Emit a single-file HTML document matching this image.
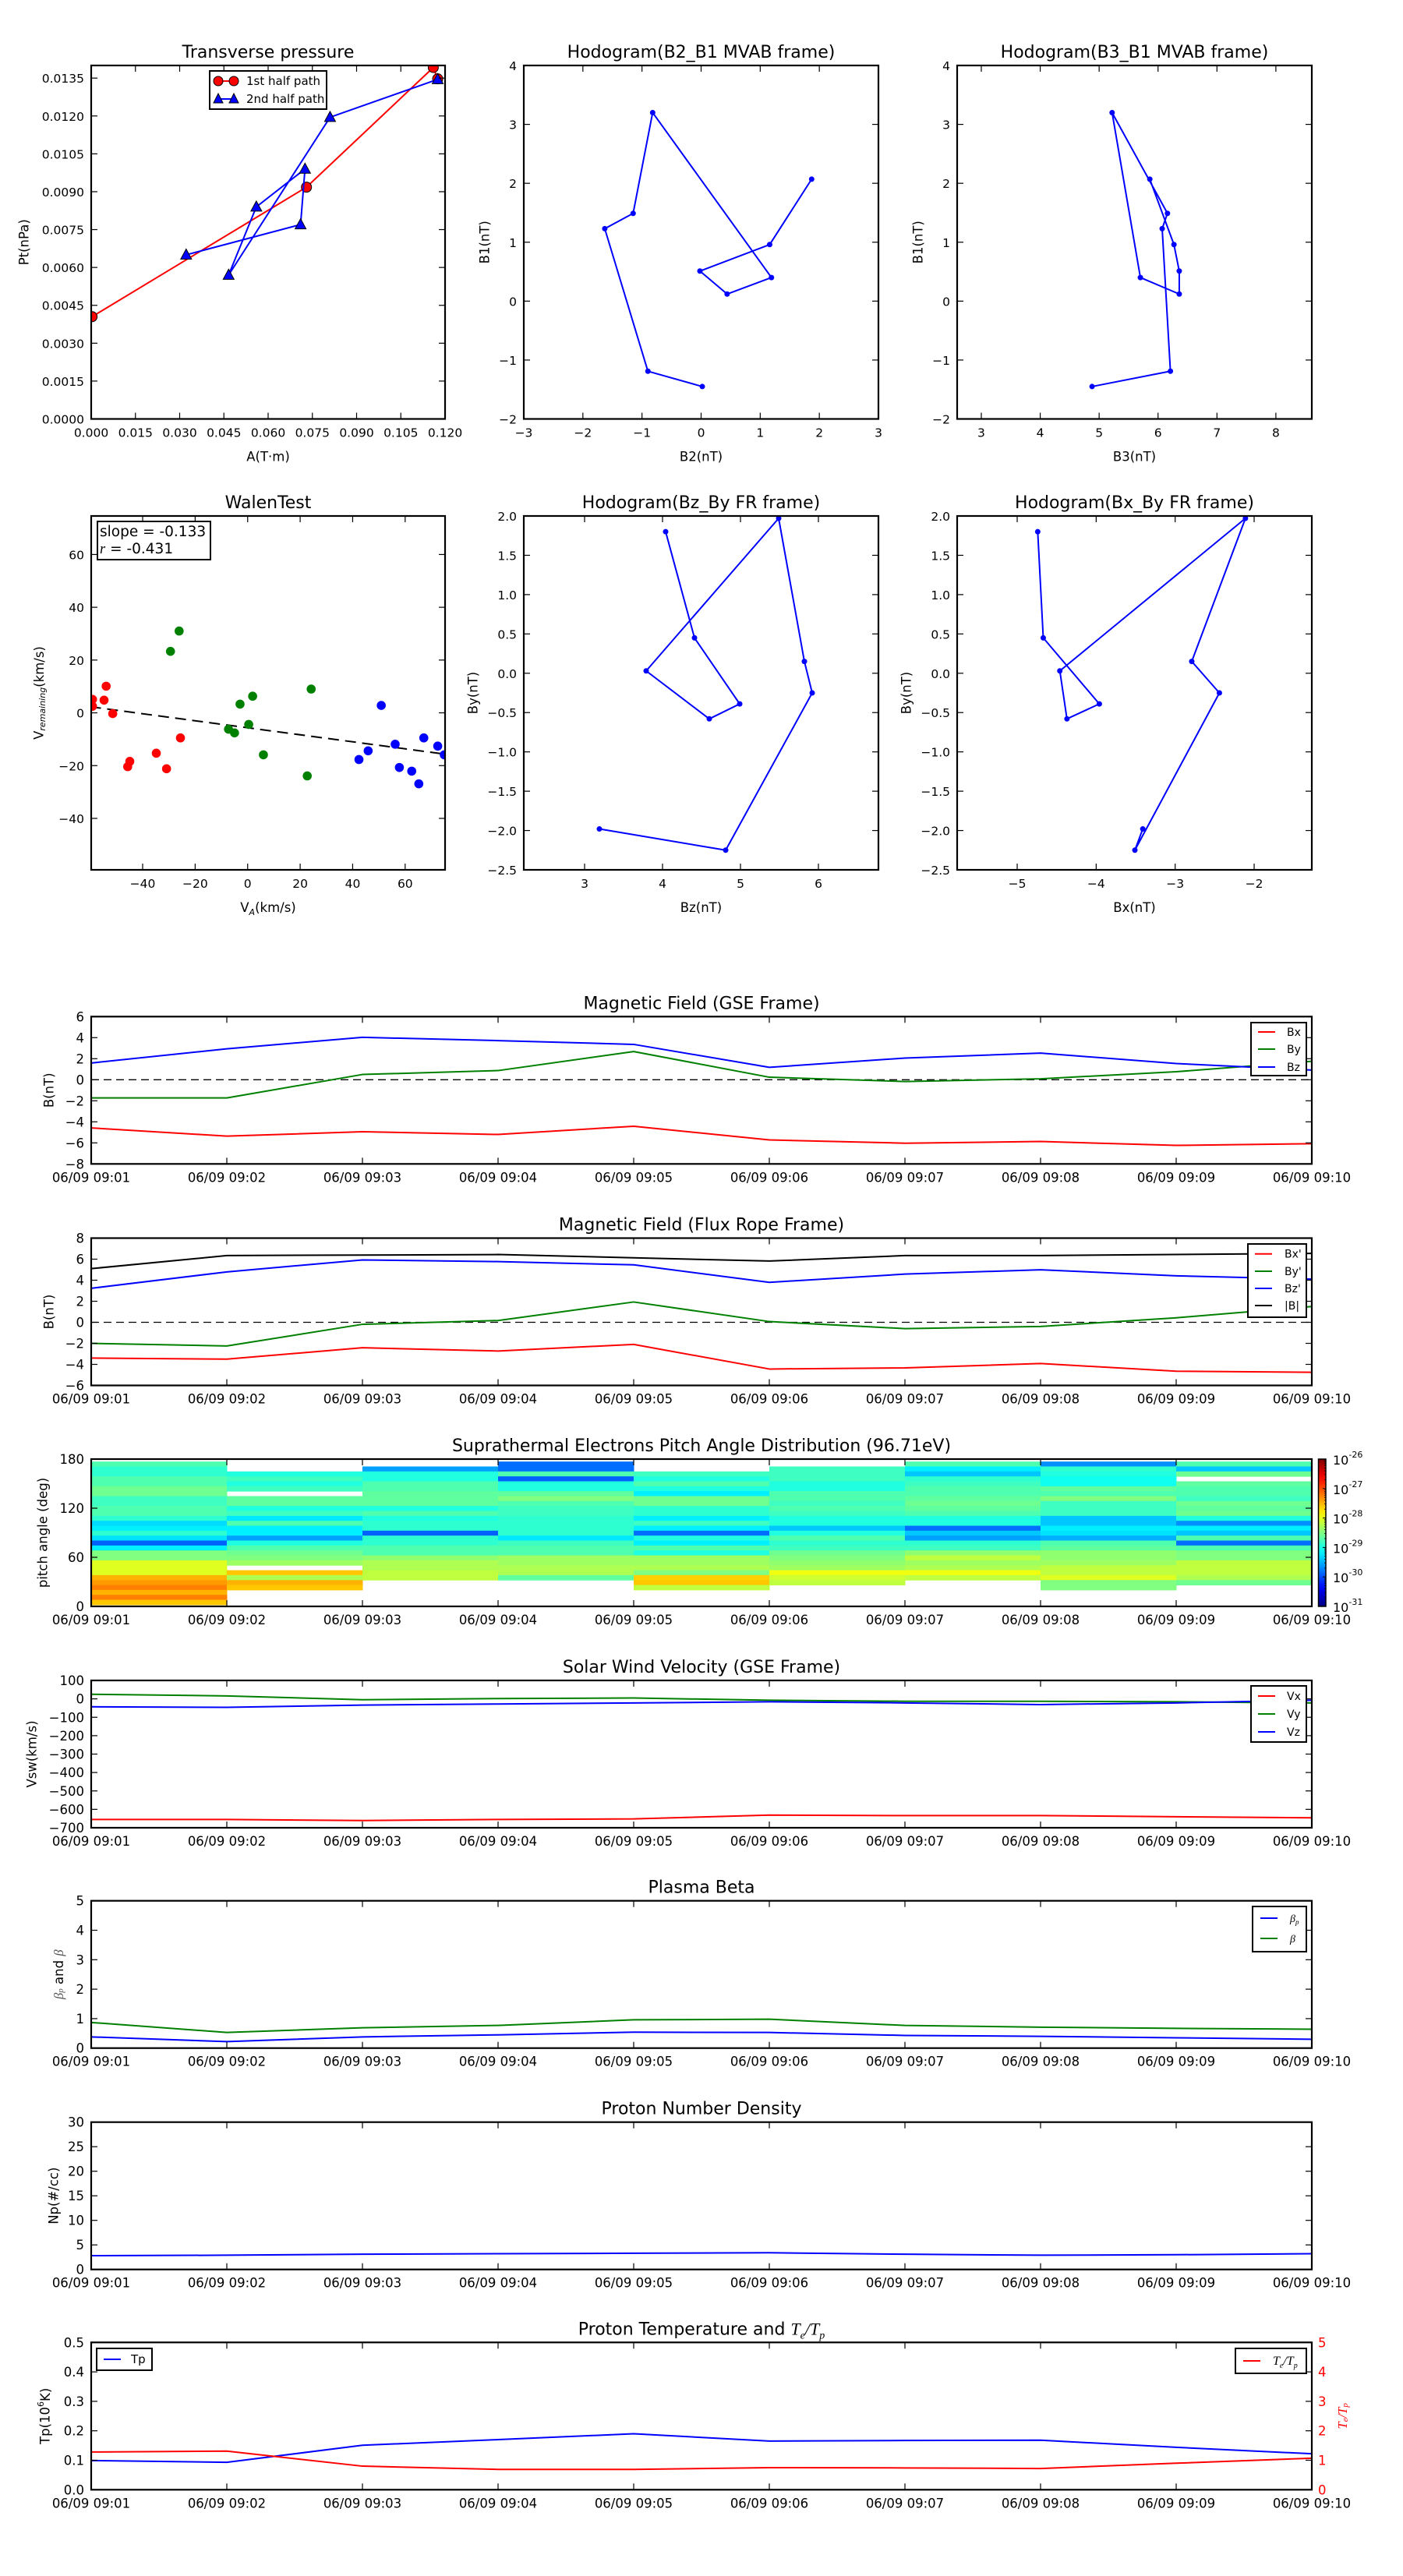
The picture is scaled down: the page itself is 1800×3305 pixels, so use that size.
<!DOCTYPE html>
<html><head><meta charset="utf-8"><style>
html,body{margin:0;padding:0;background:#fff;}
svg text{font-family:"DejaVu Sans","Liberation Sans",sans-serif;}
</style></head><body>
<svg id="fig" xmlns="http://www.w3.org/2000/svg" width="1800" height="3300" viewBox="0 0 1800 3300"><rect width="1800" height="3300" fill="#fff"/><defs id="defs"></defs></svg>
<script>
// ---------- data ----------
const tpRedA=[0.0003,0.073,0.116,0.1175];
const tpRedP=[0.00405,0.00918,0.01392,0.01347];
const tpBlueA=[0.1175,0.081,0.0466,0.056,0.0725,0.071,0.0322];
const tpBlueP=[0.01345,0.01195,0.0057,0.0084,0.0099,0.0077,0.0065];
const hB1=[-1.45,-1.19,1.23,1.49,3.2,0.40,0.12,0.51,0.96,2.07];
const hB2=[0.02,-0.9,-1.63,-1.15,-0.82,1.19,0.44,-0.02,1.16,1.87];
const hB3=[4.88,6.21,6.07,6.16,5.22,5.70,6.36,6.36,6.27,5.86];
const fBy=[1.80,0.45,-0.39,-0.58,0.03,1.97,0.15,-0.25,-2.25,-1.98];
const fBz=[4.04,4.41,4.99,4.60,3.79,5.49,5.82,5.92,4.81,3.19];
const fBx=[-4.74,-4.67,-3.96,-4.37,-4.46,-2.11,-2.79,-2.44,-3.51,-3.41];
const walenRedX=[-59.1,-59.1,-53.9,-54.7,-51.4,-45.7,-44.9,-34.8,-30.9,-25.6];
const walenRedY=[5.1,2.5,10.1,4.8,-0.3,-20.4,-18.4,-15.3,-21.2,-9.5];
const walenGreenX=[-29.4,-26.1,-7.3,-5,-2.9,0.4,1.9,6,22.7,24.2];
const walenGreenY=[23.3,31.0,-6.2,-7.6,3.3,-4.4,6.3,-15.9,-23.9,9.0];
const walenBlueX=[42.4,45.9,50.9,56.2,57.8,62.5,65.2,67.1,72.4,74.9];
const walenBlueY=[-17.7,-14.4,2.8,-11.9,-20.7,-22.1,-26.9,-9.5,-12.6,-15.9];
const walenSlope=-0.133, walenIntercept=-5.66;
const minutes=[1,2,3,4,5,6,7,8,9,10];
const timeLabels=['06/09 09:01','06/09 09:02','06/09 09:03','06/09 09:04','06/09 09:05','06/09 09:06','06/09 09:07','06/09 09:08','06/09 09:09','06/09 09:10'];
const gseBx=[-4.58,-5.36,-4.94,-5.2,-4.42,-5.72,-6.03,-5.87,-6.24,-6.08];
const gseBy=[-1.73,-1.73,0.5,0.87,2.68,0.24,-0.17,0.09,0.76,1.75];
const gseBz=[1.59,2.94,4.03,3.72,3.36,1.18,2.06,2.53,1.54,0.92];
const frBx=[-3.4,-3.5,-2.42,-2.73,-2.1,-4.44,-4.33,-3.92,-4.65,-4.75];
const frBy=[-2.0,-2.25,-0.19,0.17,1.93,0.07,-0.6,-0.4,0.43,1.5];
const frBz=[3.23,4.79,5.93,5.77,5.46,3.8,4.58,4.99,4.42,4.1];
const frBt=[5.1,6.34,6.39,6.44,6.13,5.82,6.34,6.34,6.44,6.55];
const padCol1=[-28.74,-28.9,-28.9,-28.74,-28.74,-28.58,-28.58,-28.82,-28.82,-28.74,-28.74,-28.9,-29.3,-29.2,-28.9,-29.26,-29.9,-29.2,-28.5,-28.5,-28.03,-28.03,-28.03,-27.5,-27.38,-27.25,-27.5,-27.25,-27.6];
const padCol2=[null,null,-28.97,-28.82,-28.97,-28.82,null,-28.66,-28.66,-28.97,-28.82,-29.24,-28.74,-29.2,-29.2,-29.59,-28.97,-28.74,-28.58,-28.5,-28.35,null,-27.6,-28.27,-27.5,-27.6,null,null,null];
const padCol3=[null,-29.59,-28.97,-28.97,-28.74,-28.74,-28.66,-28.66,-28.66,-28.97,-28.74,-28.97,-28.9,-28.9,-29.9,-28.9,-28.9,-28.74,-28.74,-28.42,-28.27,-28.27,-28.19,-28.19,null,null,null,null,null];
const padCol4=[-29.83,-29.83,-28.74,-29.9,-28.97,-28.97,-28.66,-28.5,-28.74,-28.82,-28.82,-28.9,-28.9,-28.9,-28.9,-29.24,-28.82,-28.74,-28.74,-28.35,-28.35,-28.27,-28.27,-28.66,null,null,null,null,null];
const padCol5=[null,null,-28.82,-28.97,-28.74,-28.97,-29.2,-28.58,-28.58,-28.9,-28.9,-29.2,-28.82,-29.2,-29.83,-28.97,-29.2,-28.74,-28.97,-28.35,-28.35,-28.27,-28.5,-27.65,-27.6,-28.19,null,null,null];
const padCol6=[null,-28.82,-28.82,-28.82,-28.97,-28.97,-28.74,-28.74,-28.82,-28.74,-28.82,-28.97,-28.97,-29.4,-28.97,-28.74,-28.9,-28.82,-28.58,-28.5,-28.42,-28.35,-27.95,-28.11,-28.19,null,null,null,null];
const padCol7=[-28.74,-29.2,-29.4,-28.9,-28.82,-28.74,-28.74,-28.66,-28.58,-28.66,-28.74,-28.97,-28.97,-29.83,-29.4,-29.59,-28.9,-28.82,-28.42,-28.19,-28.35,-28.27,-27.95,-28.19,null,null,null,null,null];
const padCol8=[-29.67,-28.9,-28.97,-29.05,-29.05,-28.66,-28.74,-28.5,-28.82,-28.82,-28.82,-29.4,-29.4,-29.2,-29.26,-29.51,-28.74,-28.66,-28.42,-28.42,-28.35,-28.19,-28.19,-28.03,-28.5,-28.5,null,null,null];
const padCol9=[-28.74,-29.4,-28.58,null,-28.66,-28.74,-28.74,-28.82,-28.58,-28.66,-28.58,-28.97,-29.67,-29.2,-29.4,-28.74,-29.83,-28.74,-28.5,-28.5,-28.19,-28.19,-28.19,-28.27,-28.58,null,null,null,null];
const padAngleTop=177, padAngleBottom=2;
const vx=[-655,-655,-661,-655,-652,-631,-634,-634,-640,-646];
const vy=[25,16,-4.5,1.5,4.5,-7.5,-13,-13,-16,-22];
const vz=[-43,-46,-34,-28,-22,-16,-22,-31,-22,-7.5];
const betaP=[0.38,0.22,0.38,0.45,0.54,0.53,0.43,0.40,0.35,0.30];
const betaT=[0.87,0.53,0.69,0.77,0.96,0.98,0.77,0.71,0.67,0.64];
const np=[2.8,2.9,3.1,3.2,3.3,3.4,3.1,2.9,3.0,3.2];
const tp=[0.099,0.093,0.151,0.17,0.19,0.165,0.167,0.168,0.144,0.122];
const teTp=[1.28,1.31,0.80,0.69,0.69,0.75,0.74,0.72,0.90,1.07];

// ---------- helpers ----------
const NS='http://www.w3.org/2000/svg';
const svg=document.getElementById('fig');
const defs=document.getElementById('defs');
let clipN=0;
function mk(tag,attrs,parent){const e=document.createElementNS(NS,tag);for(const k in attrs)e.setAttribute(k,attrs[k]);(parent||svg).appendChild(e);return e;}
function txt(str,attrs,parent){const e=mk('text',attrs,parent);e.textContent=str;return e;}
function fmt(v,d){return v<0?'\u2212'+(-v).toFixed(d):v.toFixed(d);}
function makeAxes(name,x0,y0,x1,y1,xl,yl){
  const g=mk('g',{});
  
  
  const sx=v=>x0+(v-xl[0])/(xl[1]-xl[0])*(x1-x0);
  const sy=v=>y1-(v-yl[0])/(yl[1]-yl[0])*(y1-y0);
  const id='clip'+(++clipN);
  const cp=mk('clipPath',{id:id},defs);
  mk('rect',{x:x0,y:y0,width:x1-x0,height:y1-y0},cp);
  const plot=mk('g',{'clip-path':'url(#'+id+')'},g);
  
  
  return {g,plot,sx,sy,x0,y0,x1,y1};
}
function finishAxes(ax,xt,xlab,yt,ylab,o){
  o=o||{};
  const fs=o.fs||16.5;
  const tk=mk('g',{stroke:'#000','stroke-width':1.2},ax.g);
  
  
  xt.forEach((v,i)=>{const x=ax.sx(v);
    mk('line',{x1:x,y1:ax.y1,x2:x,y2:ax.y1-8},tk);
    mk('line',{x1:x,y1:ax.y0,x2:x,y2:ax.y0+8},tk);
    const t=txt(xlab[i],{x:x,y:ax.y1+23,'font-size':fs,'text-anchor':'middle'},ax.g);
    
    
  });
  yt.forEach((v,i)=>{const y=ax.sy(v);
    mk('line',{x1:ax.x0,y1:y,x2:ax.x0+8,y2:y},tk);
    if(!o.noRightTicks) mk('line',{x1:ax.x1,y1:y,x2:ax.x1-8,y2:y},tk);
    const t=txt(ylab[i],{x:ax.x0-9,y:y+6,'font-size':fs,'text-anchor':'end'},ax.g);
    
    
  });
  const fr=mk('rect',{x:ax.x0,y:ax.y0,width:ax.x1-ax.x0,height:ax.y1-ax.y0,fill:'none',stroke:'#000','stroke-width':2.2},ax.g);
  
  
}
function title(ax,str){
  const t=txt(str,{x:(ax.x0+ax.x1)/2,y:ax.y0-10,'font-size':22,'text-anchor':'middle'},ax.g);
  
  
  return t;
}
function xlabel(ax,str){
  const t=txt(str,{x:(ax.x0+ax.x1)/2,y:ax.y1+54,'font-size':16.5,'text-anchor':'middle'},ax.g);
  
  
  return t;
}
function ylabel(ax,str,cx,color){
  const cy=(ax.y0+ax.y1)/2;
  const t=txt(str,{x:cx,y:cy,'font-size':16.5,'text-anchor':'middle','dominant-baseline':'central',transform:`rotate(-90 ${cx} ${cy})`,fill:color||'#000'},ax.g);
  
  
  return t;
}
function polyline(ax,xs,ys,color,name,w){
  const pts=xs.map((x,i)=>ax.sx(x)+','+ax.sy(ys[i])).join(' ');
  const l=mk('polyline',{points:pts,fill:'none',stroke:color,'stroke-width':w||2,'stroke-linejoin':'round'},ax.plot);
  
  
  return l;
}
function dots(ax,xs,ys,color,r,name){
  xs.forEach((x,i)=>{
    const c=mk('circle',{cx:ax.sx(x),cy:ax.sy(ys[i]),r:r,fill:color},ax.plot);
    
    
  });
}
function range(a,b,s){const r=[];for(let v=a;v<=b+1e-9;v+=s)r.push(+v.toFixed(6));return r;}
function legend(ax,x0,y0,x1,y1,items,name){
  const g=mk('g',{},ax.g);
  
  
  mk('rect',{x:x0,y:y0,width:x1-x0,height:y1-y0,fill:'#fff',stroke:'#000','stroke-width':2},g);
  items.forEach(it=>{
    const ln=mk('line',{x1:it.lx0,y1:it.y,x2:it.lx1,y2:it.y,stroke:it.color,'stroke-width':2},g);
    
    
    const t=mk('text',{x:it.tx,y:it.y+5,'font-size':it.fs||14},g);
    t.innerHTML=it.label;
    
    
  });
  return g;
}
function jet(t){t=Math.max(0,Math.min(1,t));const c=v=>Math.round(255*Math.max(0,Math.min(1,v)));
  return `rgb(${c(1.5-Math.abs(4*t-3))},${c(1.5-Math.abs(4*t-2))},${c(1.5-Math.abs(4*t-1))})`;}

// ---------- Transverse pressure ----------
{
const ax=makeAxes('transverse-pressure-chart',117,84,571,537.5,[0,0.12],[0,0.014]);
polyline(ax,tpRedA,tpRedP,'#ff0000','first-half-path-line',2);
tpRedA.forEach((a,i)=>{const c=mk('circle',{cx:ax.sx(a),cy:ax.sy(tpRedP[i]),r:6.5,fill:'#ff0000',stroke:'#000','stroke-width':1},ax.plot);

});
polyline(ax,tpBlueA,tpBlueP,'#0000ff','second-half-path-line',2);
tpBlueA.forEach((a,i)=>{const x=ax.sx(a),y=ax.sy(tpBlueP[i]);
const p=mk('polygon',{points:`${x},${y-7.5} ${x-7},${y+5.5} ${x+7},${y+5.5}`,fill:'#0000ff',stroke:'#000','stroke-width':1},ax.plot);

});
const xt=range(0,0.12,0.015), yt=range(0,0.0135,0.0015);
finishAxes(ax,xt,xt.map(v=>v.toFixed(3)),yt,yt.map(v=>v.toFixed(4)),{fs:15.5});
title(ax,'Transverse pressure'); xlabel(ax,'A(T\u00b7m)'); ylabel(ax,'Pt(nPa)',31);
const lg=mk('g',{},ax.g);


mk('rect',{x:269,y:91,width:150,height:49,fill:'#fff',stroke:'#000','stroke-width':2},lg);
mk('line',{x1:280,y1:104,x2:300,y2:104,stroke:'#f00','stroke-width':2},lg);
mk('circle',{cx:280,cy:104,r:6,fill:'#f00',stroke:'#000'},lg);mk('circle',{cx:300,cy:104,r:6,fill:'#f00',stroke:'#000'},lg);
const t1=txt('1st half path',{x:316,y:109,'font-size':15},lg);


mk('line',{x1:280,y1:127,x2:300,y2:127,stroke:'#00f','stroke-width':2},lg);
mk('polygon',{points:'280,120 274,132 286,132',fill:'#00f',stroke:'#000'},lg);mk('polygon',{points:'300,120 294,132 306,132',fill:'#00f',stroke:'#000'},lg);
const t2=txt('2nd half path',{x:316,y:132,'font-size':15},lg);


}
// ---------- Hodograms ----------
function hodo(name,box,xl,yl,xs,ys,xt,yt,yd,tit,xlab,ylab,ylx){
  const ax=makeAxes(name,box[0],box[1],box[2],box[3],xl,yl);
  polyline(ax,xs,ys,'#0000ff',name+'-path',2);
  dots(ax,xs,ys,'#0000ff',3.5,'hodogram-point');
  finishAxes(ax,xt,xt.map(v=>fmt(v,0)),yt,yt.map(v=>fmt(v,yd)),{fs:15.5});
  title(ax,tit); xlabel(ax,xlab); ylabel(ax,ylab,ylx);
}
hodo('hodogram-b2-b1',[672,84,1127,537.5],[-3,3],[-2,4],hB2,hB1,range(-3,3,1),range(-2,4,1),0,'Hodogram(B2_B1 MVAB frame)','B2(nT)','B1(nT)',622);
hodo('hodogram-b3-b1',[1228,84,1683,537.5],[2.59,8.61],[-2,4],hB3,hB1,range(3,8,1),range(-2,4,1),0,'Hodogram(B3_B1 MVAB frame)','B3(nT)','B1(nT)',1178);
hodo('hodogram-bz-by',[672,662,1127,1116],[2.22,6.77],[-2.5,2.0],fBz,fBy,range(3,6,1),range(-2.5,2,0.5),1,'Hodogram(Bz_By FR frame)','Bz(nT)','By(nT)',607);
hodo('hodogram-bx-by',[1228,662,1683,1116],[-5.76,-1.27],[-2.5,2.0],fBx,fBy,range(-5,-2,1),range(-2.5,2,0.5),1,'Hodogram(Bx_By FR frame)','Bx(nT)','By(nT)',1163);
// ---------- Walen test ----------
{
const ax=makeAxes('walen-test-chart',117,662,571,1116,[-59.6,75.2],[-59.5,74.6]);
const l=mk('line',{x1:ax.sx(-60),y1:ax.sy(walenSlope*-60+walenIntercept),x2:ax.sx(76),y2:ax.sy(walenSlope*76+walenIntercept),stroke:'#000','stroke-width':2,'stroke-dasharray':'14,8'},ax.plot);


dots(ax,walenRedX,walenRedY,'#ff0000',5.8,'walen-point-red');
dots(ax,walenGreenX,walenGreenY,'#008000',5.8,'walen-point-green');
dots(ax,walenBlueX,walenBlueY,'#0000ff',5.8,'walen-point-blue');
const xt=range(-40,60,20), yt=range(-40,60,20);
finishAxes(ax,xt,xt.map(v=>fmt(v,0)),yt,yt.map(v=>fmt(v,0)),{fs:15.5});
title(ax,'WalenTest');
const xl=xlabel(ax,''); xl.innerHTML='V<tspan font-style="italic" font-size="11" dy="4">A</tspan><tspan dy="-4">(km/s)</tspan>';
const yl=ylabel(ax,'',50); yl.innerHTML='V<tspan font-style="italic" font-size="11" dy="4">remaining</tspan><tspan dy="-4">(km/s)</tspan>';
const bx=mk('g',{},ax.g);


mk('rect',{x:125,y:669,width:145,height:49,fill:'#fff',stroke:'#000','stroke-width':2},bx);
txt('slope = -0.133',{x:128,y:688,'font-size':18.5},bx);
const r=txt('',{x:128,y:710,'font-size':18.5},bx); r.innerHTML='<tspan font-style="italic" font-family="Liberation Serif">r</tspan> = -0.431';
}
// ---------- time series ----------
const TX0=117, TX1=1683;
function tsAxes(name,top,yl){return makeAxes(name,TX0,top,TX1,top+189,[1,10],yl);}
function tsFinish(ax,yt,yd,o){finishAxes(ax,minutes,timeLabels,yt,yt.map(v=>fmt(v,yd)),o);}
function zeroLine(ax){const l=mk('line',{x1:ax.x0,y1:ax.sy(0),x2:ax.x1,y2:ax.sy(0),stroke:'#000','stroke-width':1.3,'stroke-dasharray':'10,6'},ax.plot);

}
// GSE
{
const ax=tsAxes('magnetic-field-gse-chart',1304.3,[-8,6]);
zeroLine(ax);
polyline(ax,minutes,gseBx,'#ff0000','series-bx');
polyline(ax,minutes,gseBy,'#008000','series-by');
polyline(ax,minutes,gseBz,'#0000ff','series-bz');
tsFinish(ax,range(-8,6,2),0);
title(ax,'Magnetic Field (GSE Frame)'); ylabel(ax,'B(nT)',63);
legend(ax,1605,1312,1676,1380,[{y:1324,lx0:1614,lx1:1636,tx:1651,label:'Bx',color:'#f00'},{y:1346,lx0:1614,lx1:1636,tx:1651,label:'By',color:'#008000'},{y:1369,lx0:1614,lx1:1636,tx:1651,label:'Bz',color:'#00f'}],'legend');
}
// Flux rope
{
const ax=tsAxes('magnetic-field-flux-rope-chart',1588.5,[-6,8]);
zeroLine(ax);
polyline(ax,minutes,frBx,'#ff0000','series-bx-prime');
polyline(ax,minutes,frBy,'#008000','series-by-prime');
polyline(ax,minutes,frBz,'#0000ff','series-bz-prime');
polyline(ax,minutes,frBt,'#000000','series-b-magnitude');
tsFinish(ax,range(-6,8,2),0);
title(ax,'Magnetic Field (Flux Rope Frame)'); ylabel(ax,'B(nT)',63);
legend(ax,1601,1596,1676,1690,[{y:1608.7,lx0:1610,lx1:1632,tx:1648,label:"Bx'",color:'#f00'},{y:1631,lx0:1610,lx1:1632,tx:1648,label:"By'",color:'#008000'},{y:1653,lx0:1610,lx1:1632,tx:1648,label:"Bz'",color:'#00f'},{y:1675,lx0:1610,lx1:1632,tx:1648,label:'|B|',color:'#000'}],'legend');
}
// PAD
{
const top=1872;
const ax=tsAxes('pitch-angle-distribution-chart',top,[0,180]);
const cols=[padCol1,padCol2,padCol3,padCol4,padCol5,padCol6,padCol7,padCol8,padCol9];
cols.forEach((col,ci)=>{
  const n=col.length, bw=(padAngleTop-padAngleBottom)/n;
  col.forEach((v,k)=>{
    if(v===null) return;
    const hi=padAngleTop-k*bw, lo=hi-bw;
    const r=mk('rect',{x:ax.sx(minutes[ci]),y:ax.sy(hi),width:ax.sx(minutes[ci+1])-ax.sx(minutes[ci])+0.5,height:ax.sy(lo)-ax.sy(hi)+0.5,fill:jet((v+31)/5)},ax.plot);
    
    
  });
});
tsFinish(ax,[0,60,120,180],0);
title(ax,'Suprathermal Electrons Pitch Angle Distribution (96.71eV)'); ylabel(ax,'pitch angle (deg)',55);
const gr=mk('linearGradient',{id:'jetgrad',x1:0,y1:1,x2:0,y2:0},defs);
for(let i=0;i<=20;i++) mk('stop',{offset:(i/20),'stop-color':jet(i/20)},gr);
const cb=mk('g',{},svg);


mk('rect',{x:1691.5,y:top,width:9.5,height:189,fill:'url(#jetgrad)',stroke:'#000','stroke-width':1.5},cb);
for(let e=-31;e<=-26;e++){
  const y=top+189-(e+31)/5*189;
  mk('line',{x1:1697,y1:y,x2:1701,y2:y,stroke:'#000'},cb);
  for(let m=2;m<10&&e<-26;m++){const ym=y-Math.log10(m)/5*189;mk('line',{x1:1699,y1:ym,x2:1701,y2:ym,stroke:'#000','stroke-width':0.8},cb);}
  const t=mk('text',{x:1710,y:y+7,'font-size':16},cb);
  t.innerHTML='10<tspan font-size="11" dy="-9">'+e+'</tspan>';
  
  
}
}
// Vsw
{
const ax=tsAxes('solar-wind-velocity-chart',2156,[-700,100]);
polyline(ax,minutes,vx,'#ff0000','series-vx');
polyline(ax,minutes,vy,'#008000','series-vy');
polyline(ax,minutes,vz,'#0000ff','series-vz');
tsFinish(ax,range(-700,100,100),0);
title(ax,'Solar Wind Velocity (GSE Frame)'); ylabel(ax,'Vsw(km/s)',41);
legend(ax,1605,2163,1676,2235,[{y:2176,lx0:1614,lx1:1636,tx:1651,label:'Vx',color:'#f00'},{y:2199,lx0:1614,lx1:1636,tx:1651,label:'Vy',color:'#008000'},{y:2222,lx0:1614,lx1:1636,tx:1651,label:'Vz',color:'#00f'}],'legend');
}
// Beta
{
const ax=tsAxes('plasma-beta-chart',2438.7,[0,5]);
polyline(ax,minutes,betaP,'#0000ff','series-beta-p');
polyline(ax,minutes,betaT,'#008000','series-beta');
tsFinish(ax,range(0,5,1),0);
title(ax,'Plasma Beta');
const yl=ylabel(ax,'',75); yl.innerHTML='<tspan font-style="italic" font-family="Liberation Serif" fill="#555">\u03b2<tspan font-size="11" dy="3">p</tspan></tspan><tspan dy="-3"> and </tspan><tspan font-style="italic" font-family="Liberation Serif" fill="#555">\u03b2</tspan>';
legend(ax,1607,2446,1676,2504,[{y:2461,lx0:1617,lx1:1639,tx:1655,label:'<tspan font-style="italic" font-family="Liberation Serif">\u03b2<tspan font-size="9" dy="3">p</tspan></tspan>',color:'#00f'},{y:2487,lx0:1617,lx1:1639,tx:1655,label:'<tspan font-style="italic" font-family="Liberation Serif">\u03b2</tspan>',color:'#008000'}],'legend');
}
// Np
{
const ax=tsAxes('proton-density-chart',2722.7,[0,30]);
polyline(ax,minutes,np,'#0000ff','series-np');
tsFinish(ax,range(0,30,5),0);
title(ax,'Proton Number Density'); ylabel(ax,'Np(#/cc)',69);
}
// Temperature
{
const top=3005.3;
const ax=tsAxes('proton-temperature-chart',top,[0,0.5]);
const ax2={sx:ax.sx,sy:v=>top+189-v/5*189,plot:ax.plot};
polyline(ax,minutes,tp,'#0000ff','series-tp');
polyline(ax2,minutes,teTp,'#ff0000','series-te-tp');
tsFinish(ax,range(0,0.5,0.1),1,{noRightTicks:true});
const rt=mk('g',{},ax.g);


range(0,5,1).forEach(v=>{const y=ax2.sy(v);
 mk('line',{x1:TX1,y1:y,x2:TX1-8,y2:y,stroke:'#000','stroke-width':1.2},rt);
 txt(String(v),{x:TX1+8,y:y+6,'font-size':16.5,fill:'#f00'},rt);});
const tt=title(ax,''); tt.innerHTML='Proton Temperature and <tspan font-style="italic" font-family="Liberation Serif">T<tspan font-size="14" dy="5">e</tspan><tspan dy="-5">/T</tspan><tspan font-size="14" dy="5">p</tspan></tspan>';
const yl=ylabel(ax,'',58); yl.innerHTML='Tp(10<tspan font-size="11" dy="-6">6</tspan><tspan dy="6">K)</tspan>';
const yr=ylabel(ax,'',1722,'#f00'); yr.innerHTML='<tspan font-style="italic" font-family="Liberation Serif">T<tspan font-size="11" dy="4">e</tspan><tspan dy="-4">/T</tspan><tspan font-size="11" dy="4">p</tspan></tspan>';
legend(ax,124,3013,195,3041,[{y:3027,lx0:133,lx1:155,tx:168,label:'Tp',color:'#00f',fs:15}],'legend-tp');
legend(ax,1585,3013,1676,3045,[{y:3029,lx0:1595,lx1:1617,tx:1633,label:'<tspan font-style="italic" font-family="Liberation Serif">T<tspan font-size="10" dy="4">e</tspan><tspan dy="-4">/T</tspan><tspan font-size="10" dy="4">p</tspan></tspan>',color:'#f00',fs:16}],'legend-te-tp');
}
</script>
</body></html>
